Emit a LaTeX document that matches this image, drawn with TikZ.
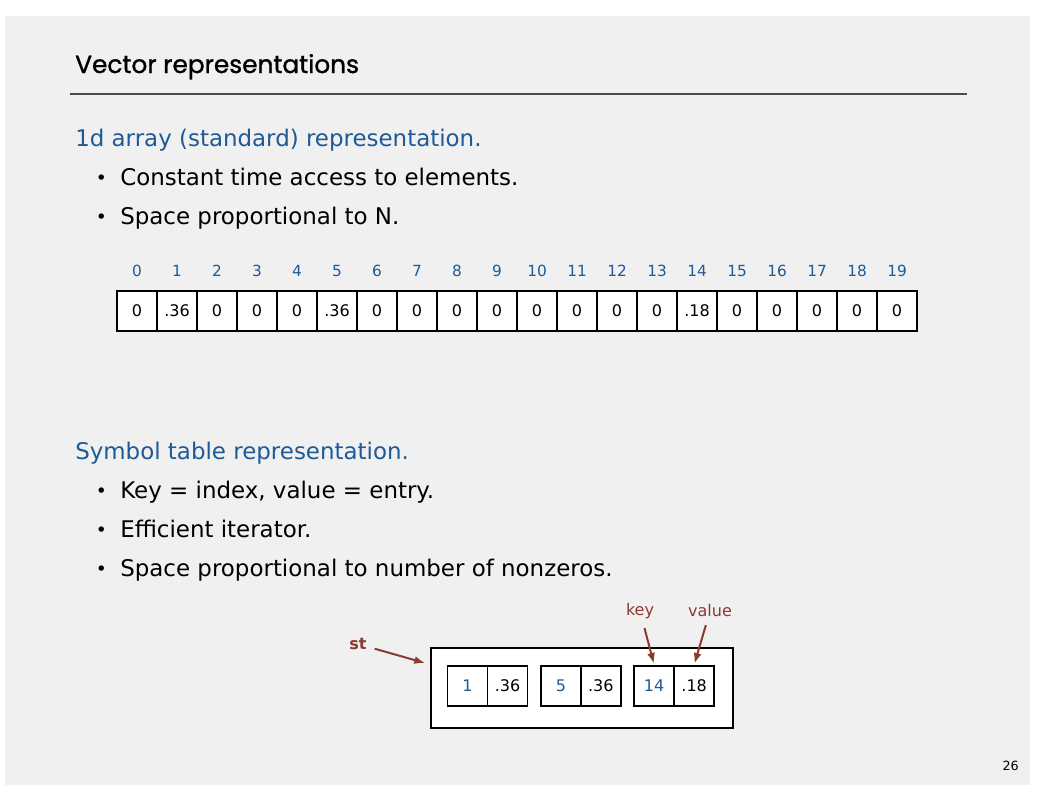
\documentclass[tikz,border=0pt]{standalone}
\usepackage{fontspec}
\setmainfont{DejaVu Sans}
\newfontfamily\titlefont[FakeBold=1.2]{Poppins}
\usetikzlibrary{positioning,arrows.meta}

\definecolor{slidebg}{HTML}{F0F0F0}
\definecolor{headblue}{HTML}{1E5A96}
\definecolor{darkred}{HTML}{8B3A30}

\newcommand{\bodysize}{\fontsize{17.2}{20}\selectfont}
\newcommand{\bul}{\llap{\raisebox{0.6pt}{\fontsize{14}{14}\selectfont•}\hspace{10pt}}}

\begin{document}
\begin{tikzpicture}[x=0.75pt,y=-0.75pt,on grid,node distance=30pt,
  txt/.style={anchor=base west,inner sep=0pt,font=\bodysize},
  head/.style={txt,text=headblue},
  cell/.style={draw,line width=1.2pt,fill=white,minimum size=30pt,inner sep=0pt,font=\fontsize{12}{14}\selectfont},
  idx/.style={text=headblue,inner sep=0pt,font=\fontsize{11.5}{13}\selectfont},
  note/.style={text=darkred,inner sep=1pt,font=\fontsize{12}{14}\selectfont},
  ptr/.style={-{Latex[length=8pt,width=6pt]},line width=1.5pt,darkred}]
\fill[white] (0,0) rectangle (1038,800);
\useasboundingbox (0,0) rectangle (1038,800);
\fill[slidebg] (5,16) rectangle (1030,785);

% title
\node[anchor=base west,inner sep=0pt,font=\titlefont\fontsize{18.6}{22}\selectfont] (title) at (75,73) {Vector representations};
\draw[line width=1.1pt,black!70] (70,94) -- (967,94);

% 1d array
\node[head] (h1) at (75,146) {1d array (standard) representation.};
\node[txt] (b1) at (120,185) {\bul Constant time access to elements.};
\node[txt] (b2) at (120,224) {\bul Space proportional to N.};

\node[cell] (a0) at (137,311) {0};
\foreach \v [count=\i, remember=\i as \j (initially 0)] in {.36,0,0,0,.36,0,0,0,0,0,0,0,0,.18,0,0,0,0,0}
  \node[cell,right=of a\j] (a\i) {\v};
\foreach \i in {0,...,19}
  \node[idx,above=of a\i] (n\i) {\i};

% symbol table
\node[head] (h2) at (75,459) {Symbol table representation.};
\node[txt] (b3) at (120,498) {\bul Key = index, value = entry.};
\node[txt] (b4) at (120,537) {\bul Efficient iterator.};
\node[txt] (b5) at (120,576) {\bul Space proportional to number of nonzeros.};

\node[draw,line width=1.2pt,fill=white,minimum width=226.5pt,minimum height=60pt,inner sep=0pt] (st) at (581.7,687.7) {};
\node[cell,text=headblue] (k1) at (467.5,685.7) {1};
\node[cell,right=of k1] (v1) {.36};
\node[cell,text=headblue,right=70pt of k1] (k2) {5};
\node[cell,right=of k2] (v2) {.36};
\node[cell,text=headblue,right=70pt of k2] (k3) {14};
\node[cell,right=of k3] (v3) {.18};

\node[note,font=\bfseries\fontsize{12}{14}\selectfont] (stlbl) at (358,644) {st};
\node[note] (keylbl) at (640,611) {key};
\node[note] (vallbl) at (710,611) {value};
\coordinate (stend) at (425,663);
\draw[ptr,shorten <=5pt] (stlbl) -- (stend);
\draw[ptr,shorten <=6pt,shorten >=1pt] (keylbl) -- (k3.north);
\draw[ptr,shorten <=5pt,shorten >=1pt] (vallbl) -- (v3.north);

\node[anchor=base east,inner sep=0pt,font=\fontsize{9.5}{11}\selectfont] (pg) at (1019,770) {26};
\end{tikzpicture}
\end{document}
